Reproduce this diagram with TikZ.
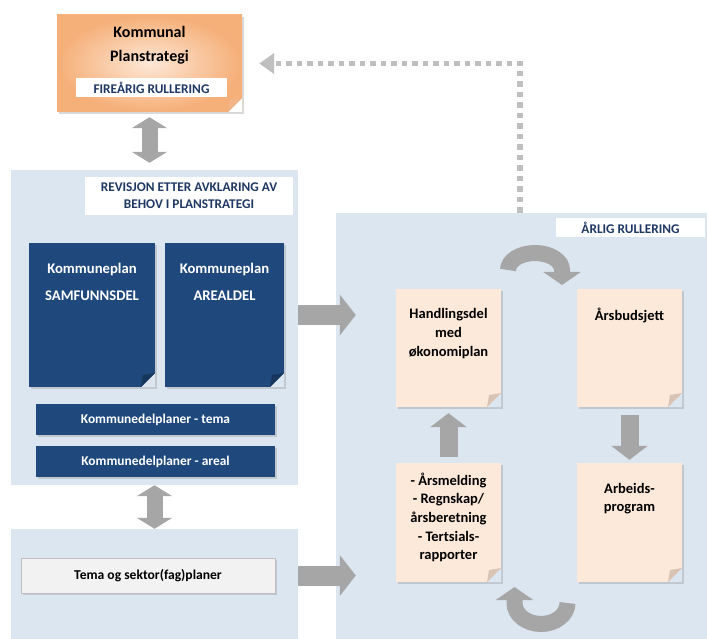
\documentclass[tikz,border=0pt]{standalone}
\usepackage{fontspec}
\setmainfont{Carlito}
\usetikzlibrary{arrows.meta,shadows,positioning}

\definecolor{panelblue}{HTML}{DCE6F1}
\definecolor{docblue}{HTML}{1F497D}
\definecolor{foldblue}{HTML}{16365C}
\definecolor{labelnavy}{HTML}{1F3864}
\definecolor{peach}{HTML}{FDE9D9}
\definecolor{foldpeach}{HTML}{D9C3B5}
\definecolor{arrowgray}{HTML}{A6A6A6}
\definecolor{dotgray}{HTML}{BFBFBF}
\definecolor{orangedark}{HTML}{F5AF78}
\definecolor{orangelight}{HTML}{FDE7D6}
\definecolor{foldorange}{HTML}{F2B588}
\definecolor{sektorgray}{HTML}{F2F2F2}

\begin{document}
\begin{tikzpicture}[x=1pt, y=-1pt,
  panel/.style={fill=panelblue, inner sep=0pt},
  tag/.style={fill=white, text=labelnavy, font=\fontsize{13.3}{17}\selectfont\bfseries, align=center, inner sep=0pt},
  folded/.style 2 args={path picture={
    \fill[#1] (path picture bounding box.south east) -- ++(-14pt,0pt) -- ++(14pt,14pt) -- cycle;
    \fill[#2] (path picture bounding box.south east) ++(-14pt,0pt) -- ++(14pt,14pt) -- ++(-12pt,-2pt) -- cycle;}},
  shade/.style={drop shadow={opacity=0.3, shadow xshift=2pt, shadow yshift=-2pt}},
  darkdoc/.style={fill=docblue, inner sep=0pt, shade, folded={panelblue}{foldblue}},
  peachdoc/.style={fill=peach, inner sep=0pt, shade, folded={panelblue}{foldpeach}},
  bar/.style={fill=docblue, text=white, inner sep=0pt, shade, font=\fontsize{13.4}{16}\selectfont\bfseries},
  doctext/.style={font=\fontsize{14.5}{18.7}\selectfont\bfseries, align=center, inner sep=0pt},
  thick arrow/.style={draw=arrowgray, line width=20pt, -{Triangle[width=40pt,length=16pt]}},
  both arrow/.style={draw=arrowgray, line width=16pt, {Triangle[width=35pt,length=11pt]}-{Triangle[width=35pt,length=11pt]}},
  step arrow/.style={draw=arrowgray, line width=18pt, -{Triangle[width=36pt,length=14pt]}},
  loop arrow/.style={draw=arrowgray, line width=16pt, -{Triangle[width=37pt,length=13pt]}},
  dotline/.style={draw=dotgray, line width=5.5pt, dash pattern=on 5.5pt off 5pt, -{Triangle[width=20pt,length=15pt]}}]

\useasboundingbox (0,0) rectangle (707,639);

\node[panel, minimum width=287pt, minimum height=315pt] (panelA) at (154.5,327.5) {};
\node[panel, minimum width=287pt, minimum height=110pt] (panelB) at (154.5,584) {};
\node[panel, minimum width=371pt, minimum height=426pt] (panelC) at (521.5,426) {};

\node[inner sep=0pt, minimum width=185pt, minimum height=97pt, shading=radial, inner color=orangelight, outer color=orangedark, shade, folded={white}{foldorange}] (plan) at (149.5,63.5) {};
\node[doctext, font=\fontsize{16}{24}\selectfont\bfseries] (plantxt) at (149.5,45) {Kommunal\\Planstrategi};
\node[tag, minimum width=151pt, minimum height=19pt] (fire) at (151.5,87.5) {FIREÅRIG RULLERING};

\node[tag, minimum width=208pt, minimum height=38pt] (revisjon) at (189,196) {REVISJON ETTER AVKLARING AV\\BEHOV I PLANSTRATEGI};
\node[darkdoc, minimum width=126pt, minimum height=144pt] (samf) at (92,315) {};
\node[darkdoc, minimum width=119pt, minimum height=144pt] (areal) at (224.5,315) {};
\node[doctext, text=white, font=\fontsize{14.7}{27}\selectfont\bfseries] (samftxt) at (92,281.5) {Kommuneplan\\SAMFUNNSDEL};
\node[doctext, text=white, font=\fontsize{14.7}{27}\selectfont\bfseries] (arealtxt) at (224.5,281.5) {Kommuneplan\\AREALDEL};
\node[bar, minimum width=239pt, minimum height=31pt] (tema) at (155.5,419.5) {Kommunedelplaner - tema};
\node[bar, minimum width=239pt, minimum height=31pt] (arealplan) at (155.5,461.5) {Kommunedelplaner - areal};

\node[fill=sektorgray, draw=dotgray, inner sep=0pt, shade, minimum width=254pt, minimum height=35pt, font=\fontsize{13.6}{16}\selectfont\bfseries] (sektor) at (148,575.5) {Tema og sektor(fag)planer};

\node[tag, minimum width=149pt, minimum height=19pt] (aarlig) at (630.5,227.5) {ÅRLIG RULLERING};
\node[peachdoc, minimum width=105pt, minimum height=118pt] (hand) at (448.5,348) {};
\node[peachdoc, minimum width=105pt, minimum height=118pt] (budsjett) at (629.5,348) {};
\node[peachdoc, minimum width=105pt, minimum height=119pt] (melding) at (448.5,522.5) {};
\node[peachdoc, minimum width=105pt, minimum height=119pt] (arbeid) at (629.5,522.5) {};
\node[doctext] (handtxt) at (448.5,333.5) {Handlingsdel\\med\\økonomiplan};
\node[doctext] (budsjetttxt) at (629.5,315) {Årsbudsjett};
\node[doctext] (meldingtxt) at (448.5,517.5) {- Årsmelding\\- Regnskap/\\årsberetning\\- Tertsials-\\rapporter};
\node[doctext] (arbeidtxt) at (629.5,498.5) {Arbeids-\\program};

\coordinate (dotstart) at (520,213);
\coordinate (topturn) at (508,270);
\coordinate (bottomturn) at (567.5,603);

\draw[both arrow, shorten <=5pt, shorten >=7pt] (plan.south) -- (plan.south |- panelA.north);
\draw[both arrow] (panelA.south) -- (panelB.north);
\draw[thick arrow, shorten >=40pt] (samf.east -| panelA.east) -- (samf.east -| hand.west);
\draw[thick arrow, shorten >=40pt] (sektor.east -| panelA.east) -- (sektor.east -| melding.west);
\draw[step arrow, shorten <=6pt, shorten >=6pt] (melding.north) -- (hand.south);
\draw[step arrow, shorten <=8pt, shorten >=3pt] (budsjett.south) -- (arbeid.north);
\draw[loop arrow] (topturn) arc[start angle=180, end angle=360, x radius=27, y radius=17] -- ++(0,15);
\draw[loop arrow] (bottomturn) arc[start angle=0, end angle=180, x radius=26.5, y radius=21] -- ++(0,-16);
\draw[dotline, shorten >=17pt] (dotstart) |- (plan.east);
\end{tikzpicture}
\end{document}
